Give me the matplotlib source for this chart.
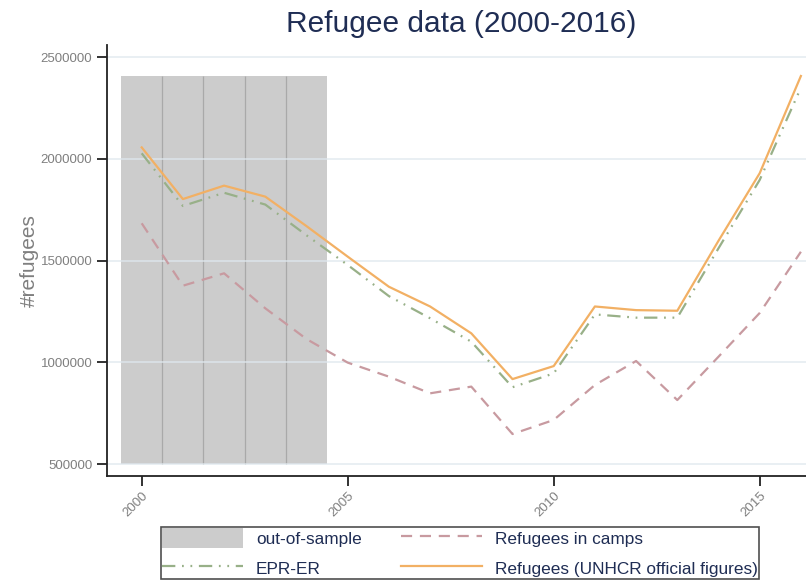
import matplotlib
matplotlib.use("Agg")
import matplotlib.pyplot as plt
from matplotlib.patches import Patch
from matplotlib.lines import Line2D

plt.rcParams['font.family'] = ['Liberation Sans', 'DejaVu Sans']

years = list(range(2000, 2017))
unhcr = [2057000, 1803000, 1869000, 1815000, 1670000, 1520000, 1372000, 1275000,
         1143000, 918000, 982000, 1275000, 1257000, 1254000, 1598000, 1930000, 2408000]
epr_er = [2028000, 1769000, 1834000, 1776000, 1625000, 1479000, 1326000, 1217000,
          1102000, 878000, 946000, 1236000, 1220000, 1220000, 1561000, 1897000, 2350000]
camps = [1684000, 1377000, 1438000, 1266000, 1115000, 999000, 930000, 848000,
         881000, 648000, 717000, 889000, 1007000, 815000, 1028000, 1243000, 1544000]
out_of_sample_years = [2000, 2001, 2002, 2003, 2004]
shade_low = 500000
shade_high = max(unhcr)

y_ticks = [500000, 1000000, 1500000, 2000000, 2500000]
x_ticks = [2000, 2005, 2010, 2015]

navy = '#1f2d54'
gray_txt = '#7f7f7f'
c_unhcr = '#f2b064'
c_epr = '#98b088'
c_camps = '#c89aa0'
c_shade = '#cccccc'

fig = plt.figure(figsize=(8.06, 5.80), dpi=100)
ax = fig.add_axes([107/806, 1-476/580, 1-107/806, (476-45)/580])

# out-of-sample years as unit-width bars, with thin separators between them
ax.bar(out_of_sample_years, [shade_high - shade_low]*len(out_of_sample_years),
       bottom=shade_low, width=1.0, color=c_shade, edgecolor='none', zorder=1)
ax.vlines([y + 0.5 for y in out_of_sample_years[:-1]], shade_low, shade_high,
          color='#a9a9a9', linewidth=0.9, zorder=1.5)

for yt in y_ticks:
    ax.axhline(yt, color='#dfe8ee', linewidth=1.3, alpha=0.75, zorder=2)

ax.plot(years, camps, color=c_camps, lw=1.6, dashes=(5, 3.5), zorder=3)
ax.plot(years, epr_er, color=c_epr, lw=1.6, dashes=(6, 3, 0.8, 3, 0.8, 3), zorder=3)
ax.plot(years, unhcr, color=c_unhcr, lw=1.6, zorder=4)

ax.set_xlim(1999.158, 2016.124)
ax.set_ylim(441600, 2560400)
ax.set_yticks(y_ticks)
ax.set_yticklabels([str(v) for v in y_ticks])
ax.set_xticks(x_ticks)
ax.set_xticklabels([str(v) for v in x_ticks], rotation=45, ha='right',
                   rotation_mode='anchor')

for s in ['top', 'right']:
    ax.spines[s].set_visible(False)
for s in ['left', 'bottom']:
    ax.spines[s].set_color('#222222')
    ax.spines[s].set_linewidth(1.3)

ax.tick_params(axis='both', direction='out', length=7, width=1.3,
               color='#222222', labelcolor=gray_txt, labelsize=9.5)
ax.tick_params(axis='x', pad=3)

ax.set_ylabel('#refugees', fontsize=15, color=gray_txt, labelpad=1)
fig.text(461/806, 1-24/580, 'Refugee data (2000-2016)', ha='center', va='center',
         fontsize=21.5, color=navy)

handles = [
    Patch(facecolor=c_shade, edgecolor='none'),
    Line2D([], [], color=c_epr, lw=1.6, dashes=(6, 3, 0.8, 3, 0.8, 3)),
    Line2D([], [], color=c_camps, lw=1.6, dashes=(5, 3.5)),
    Line2D([], [], color=c_unhcr, lw=1.6),
]
labels = ['out-of-sample', 'EPR-ER', 'Refugees in camps',
          'Refugees (UNHCR official figures)']
leg = fig.legend(handles, labels, ncol=2, loc='lower center',
                 bbox_to_anchor=(460/806, 1/580), frameon=True, fancybox=False,
                 edgecolor='#222222', fontsize=12.4, handlelength=4.7,
                 handleheight=1.45, handletextpad=0.75, columnspacing=2.3,
                 borderpad=0.05, labelspacing=0.55, borderaxespad=0)
leg.get_frame().set_linewidth(1.2)
for t in leg.get_texts():
    t.set_color(navy)

fig.savefig('out.png', dpi=100)
